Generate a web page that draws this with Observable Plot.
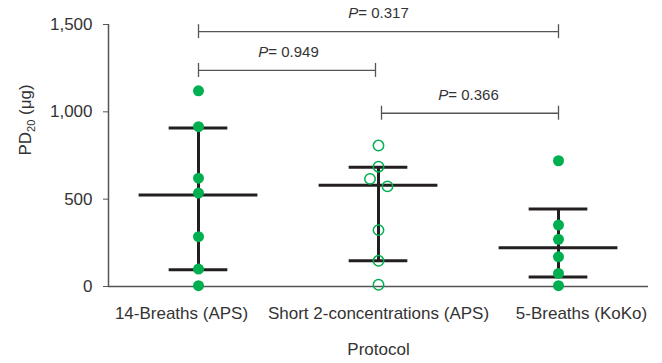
<!DOCTYPE html>
<html>
<head>
<meta charset="utf-8">
<script src="https://cdn.jsdelivr.net/npm/d3@7"></script>
<script src="https://cdn.jsdelivr.net/npm/@observablehq/plot@0.6"></script>
<style>
  html, body { margin: 0; padding: 0; background: #fff; }
  #chart svg { display: block; }
</style>
</head>
<body>
<div id="chart"></div>
<script>
// ---- data ----
const categories = ["14-Breaths (APS)", "Short 2-concentrations (APS)", "5-Breaths (KoKo)"];
const breaths14 = [1120, 915, 620, 535, 285, 100, 5];      // filled dots
const short2 = [807, 686, 616, 573, 323, 147, 10];          // open dots
const breaths5 = [720, 352, 270, 170, 75, 5];               // filled dots
const centers = [524, 579, 222];
const upper = [908, 683, 444];
const lower = [96, 147, 54];
const bracketFrom = [0, 0, 1];
const bracketTo = [2, 1, 2];
const bracketP = ["0.317", "0.949", "0.366"];
const bracketLevel = [1459, 1237, 992];
const yTicks = [0, 500, 1000, 1500];

// ---- layout / style constants ----
const green = "#00b050";
const font = "'Liberation Sans', Arial, sans-serif";
const xDomain = [-0.5, 2.5];
const pxPerUnit = 540 / 3;
const short2Nudge = [0, 0, -8.5, 9, 0, 0, 0]; // horizontal nudge (px) of overlapping points
const idx = [0, 1, 2];
const bIdx = [0, 1, 2];
const labelDx = [-17, 0, 23];
const gap = 3 / pxPerUnit;
const tickHalf = 40;

const filled = [
  ...breaths14.map(v => ({g: 0, v, n: 0})),
  ...breaths5.map(v => ({g: 2, v, n: 0}))
];
const open = short2.map((v, i) => ({g: 1, v, n: short2Nudge[i]}));

const marks = [
  Plot.ruleX([xDomain[0]], {stroke: "#555", strokeWidth: 1.5}),
  Plot.ruleY([0], {stroke: "#555", strokeWidth: 1.5}),
  Plot.axisY(yTicks, {tickSize: 5, tickPadding: 11, tickFormat: d3.format(","), label: null, stroke: "#555", fill: "#333", fontSize: 17}),
  ...idx.map(i => Plot.axisX([i], {tickSize: 0, tickPadding: 20, tickFormat: d => categories[d], label: null, dx: labelDx[i], fill: "#333", fontSize: 17})),
  // error bars
  Plot.ruleX(idx, {x: i => i, y1: i => lower[i], y2: i => upper[i], stroke: "#231f20", strokeWidth: 3}),
  Plot.ruleY(idx, {y: i => centers[i], x1: i => i - 0.33, x2: i => i + 0.33, stroke: "#231f20", strokeWidth: 3}),
  Plot.ruleY(idx, {y: i => upper[i], x1: i => i - 0.163, x2: i => i + 0.163, stroke: "#231f20", strokeWidth: 3}),
  Plot.ruleY(idx, {y: i => lower[i], x1: i => i - 0.163, x2: i => i + 0.163, stroke: "#231f20", strokeWidth: 3}),
  // significance brackets
  Plot.ruleY(bIdx, {y: i => bracketLevel[i], x1: i => bracketFrom[i] + (bracketFrom[i] === 1 ? gap : 0), x2: i => bracketTo[i] - (bracketTo[i] === 1 ? gap : 0), stroke: "#555", strokeWidth: 1.3}),
  Plot.ruleX(bIdx, {x: i => bracketFrom[i] + (bracketFrom[i] === 1 ? gap : 0), y1: i => bracketLevel[i] - tickHalf, y2: i => bracketLevel[i] + tickHalf, stroke: "#555", strokeWidth: 1.3}),
  Plot.ruleX(bIdx, {x: i => bracketTo[i] - (bracketTo[i] === 1 ? gap : 0), y1: i => bracketLevel[i] - tickHalf, y2: i => bracketLevel[i] + tickHalf, stroke: "#555", strokeWidth: 1.3}),
  Plot.text(bIdx, {x: i => (bracketFrom[i] + bracketTo[i]) / 2, y: i => bracketLevel[i], text: i => "P= " + bracketP[i], dy: -18, fontSize: 15, fill: "#333"}),
  // points
  Plot.dot(filled, {x: "g", y: "v", r: 5.5, fill: green}),
  Plot.dot(open, {x: d => d.g + d.n / pxPerUnit, y: "v", r: 5.2, stroke: green, strokeWidth: 1.5, fill: "none"}),
  // axis titles
  Plot.text(["PD20 (μg)"], {frameAnchor: "left", rotate: -90, dx: -83, fontSize: 17, fill: "#333"}),
  Plot.text(["Protocol"], {frameAnchor: "bottom", lineAnchor: "top", dy: 56, fontSize: 17, fill: "#333"})
];

const svg = Plot.plot({
  width: 662,
  height: 363,
  marginLeft: 108,
  marginRight: 14,
  marginTop: 24,
  marginBottom: 77,
  x: {type: "linear", domain: xDomain, axis: null},
  y: {domain: [0, 1500], axis: null},
  style: {fontFamily: font, fontSize: "17px", background: "#fff", color: "#333", overflow: "visible"},
  marks
});

// rich text: italic P and subscript 20
d3.select(svg).selectAll("text").each(function() {
  const t = this.textContent;
  const sel = d3.select(this);
  if (t.startsWith("P= ")) {
    sel.text(null);
    sel.append("tspan").attr("font-style", "italic").text("P");
    sel.append("tspan").text(t.slice(1));
  } else if (t === "PD20 (μg)") {
    sel.text(null);
    sel.append("tspan").text("PD");
    sel.append("tspan").attr("font-size", 11).attr("dy", 4).text("20");
    sel.append("tspan").attr("dy", -4).text(" (μg)");
  }
});

document.getElementById("chart").appendChild(svg);
</script>
</body>
</html>
